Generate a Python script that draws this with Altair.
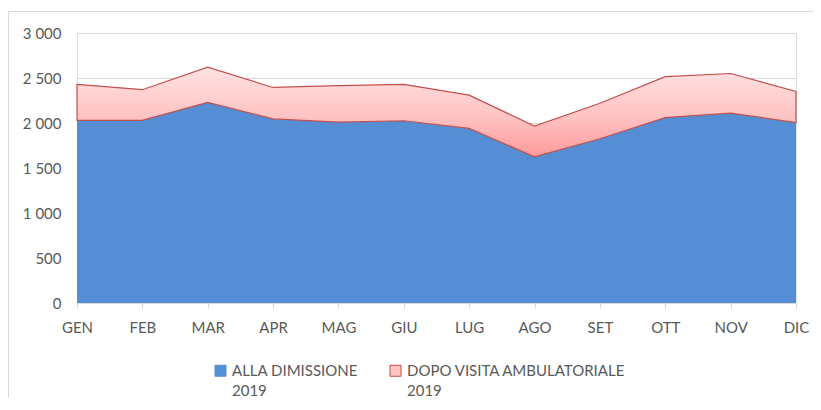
import altair as alt
import pandas as pd

months = ["GEN", "FEB", "MAR", "APR", "MAG", "GIU", "LUG", "AGO", "SET", "OTT", "NOV", "DIC"]
dimissione = [2030, 2030, 2230, 2045, 2010, 2025, 1940, 1625, 1825, 2060, 2110, 2005]
ambulatoriale = [400, 340, 390, 350, 405, 405, 370, 340, 395, 455, 440, 345]
series_names = ["ALLA DIMISSIONE|2019", "DOPO VISITA AMBULATORIALE|2019"]
y_ticks = [0, 500, 1000, 1500, 2000, 2500, 3000]

BLUE = "#558ED5"
RED = "#C0504D"
GRID = "#D9D9D9"
TXT = "#595959"
FONT = "Lato"

df = pd.DataFrame({"mese": months, "dimissione": dimissione, "ambulatoriale": ambulatoriale})

x_enc = alt.X(
    "mese:O",
    sort=months,
    scale=alt.Scale(padding=0),
    axis=alt.Axis(
        title=None, labelAngle=0, domainColor=GRID, domainWidth=1,
        tickColor=GRID, tickSize=5, labelPadding=12, grid=False,
        labelFont=FONT, labelFontSize=15, labelColor=TXT,
    ),
)
y_scale = alt.Scale(domain=[0, 3000], nice=False)
y_axis = alt.Axis(
    title=None, values=y_ticks, domain=False, ticks=False, grid=True,
    gridColor=GRID, gridWidth=1, labelPadding=16,
    labelFont=FONT, labelFontSize=15, labelColor=TXT,
    labelExpr="replace(format(datum.value, ','), ',', ' ')",
)

base = alt.Chart(df)

blue = base.mark_area(color=BLUE).encode(
    x=x_enc,
    y=alt.Y("dimissione:Q", scale=y_scale, axis=y_axis),
)

pink = base.transform_calculate(
    totale="datum.dimissione + datum.ambulatoriale"
).mark_area(
    fill=alt.Gradient(
        gradient="linear",
        stops=[
            alt.GradientStop(color="#FFE2E2", offset=0),
            alt.GradientStop(color="#FFC3C3", offset=0.55),
            alt.GradientStop(color="#FF9A9A", offset=1),
        ],
        x1=0, x2=0, y1=0, y2=1,
    ),
    stroke=RED,
    strokeWidth=1.2,
).encode(
    x=x_enc,
    y=alt.Y("totale:Q", scale=y_scale, title=None),
    y2="dimissione:Q",
)

leg = alt.Legend(
    title=None, orient="none", legendX=136, legendY=330, direction="horizontal",
    symbolType="square", symbolSize=121, symbolStrokeWidth=1, symbolOpacity=1,
    labelFont=FONT, labelFontSize=15, labelColor=TXT, labelLimit=400,
    labelOffset=4, columnPadding=30, labelBaseline="middle",
    labelExpr="split(datum.label, '|')",
)

leg_df = pd.DataFrame({"serie": series_names})
legend_layer = alt.Chart(leg_df).transform_filter("false").mark_point(
    shape="square", filled=True, opacity=1
).encode(
    color=alt.Color("serie:N", scale=alt.Scale(domain=series_names, range=[BLUE, "#FFC4C4"]), legend=leg),
    stroke=alt.Stroke("serie:N", scale=alt.Scale(domain=series_names, range=[BLUE, RED]), legend=leg),
)

frame_df = pd.DataFrame({"k": [0]})
frame_top = alt.Chart(frame_df).mark_rule(color=GRID, strokeWidth=1).encode(
    x=alt.value(-68.5), x2=alt.value(736), y=alt.value(-21.5)
)
frame_left = alt.Chart(frame_df).mark_rule(color=GRID, strokeWidth=1).encode(
    x=alt.value(-68.5), y=alt.value(-21.5), y2=alt.value(365)
)

chart = alt.layer(frame_top, frame_left, blue, pink, legend_layer).properties(
    width=719,
    height=270,
    autosize=alt.AutoSizeParams(type="none"),
    padding={"left": 69, "top": 25, "right": 17, "bottom": 95},
).configure_view(stroke=None).configure(
    background="white",
    style={"guide-label": {"lineHeight": 20}},
)

chart.save("out.html", embed_options={"renderer": "svg", "actions": False})
